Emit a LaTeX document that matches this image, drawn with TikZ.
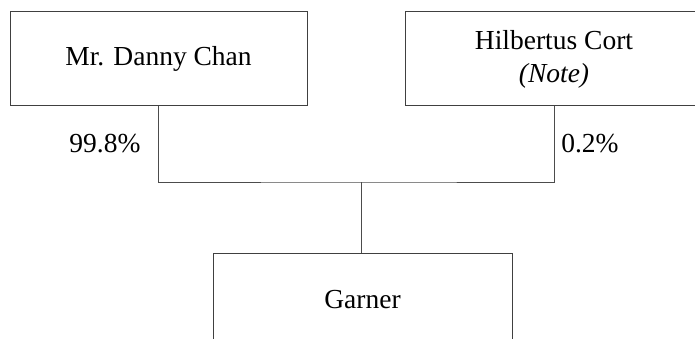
\documentclass[tikz,border=0pt]{standalone}
\usepackage{fontspec}
\setmainfont{Liberation Serif}
\usepackage{tikz}
\usetikzlibrary{positioning}

\begin{document}
\begin{tikzpicture}[
    x=1pt, y=-1pt,
    font=\fontsize{27.5}{33}\selectfont,
    holder/.style={draw=black!75, line width=1pt, align=center, inner sep=0pt},
    link/.style={draw=black!70, line width=1pt},
    share/.style={inner sep=0pt}
  ]
    \useasboundingbox (0,0) rectangle (695,339);
    \clip (0,0) rectangle (695,339);

    \node[holder, minimum width=297pt, minimum height=94pt] (chan) at (158.5,59) {Mr. Danny Chan};
    \node[holder, minimum width=298pt, minimum height=94pt] (cort) at (554,59) {Hilbertus Cort\\\textit{(Note)}};
    \node[holder, minimum width=299pt, minimum height=94pt] (garner) at (362.5,300) {Garner};

    \node[share] (pctchan) at (105,144) {99.8\%};
    \node[share] (pctcort) at (590,144) {0.2\%};

    \coordinate (join) at (361,182);

    \draw[link] (chan.south) |- (join) -| (cort.south);
    \draw[link] (join) -- (join |- garner.north);
  \end{tikzpicture}
\end{document}
